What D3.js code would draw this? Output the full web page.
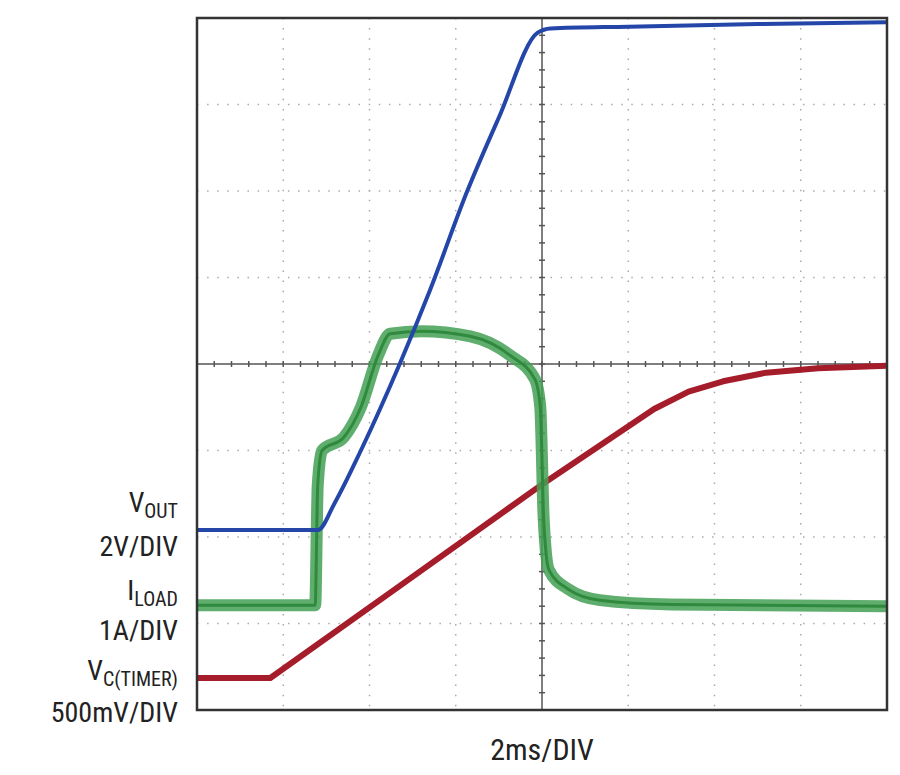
<!DOCTYPE html><html><head><meta charset="utf-8">
<script src="https://cdn.jsdelivr.net/npm/d3@7"></script>
<style>body{margin:0;background:#fff}text{font-family:"Liberation Sans Narrow","Roboto Condensed","Liberation Sans",sans-serif;fill:#222}</style>
</head><body><svg id="c" width="900" height="775"></svg>
<script>
// x in divisions (2ms/div), y in divisions from bottom
const vout = [[0,2.08],[1.40,2.08],[1.6,2.4],[1.9,3.0],[2.35,4.0],[2.7,4.85],[3.13,5.99],[3.5,6.85],[3.95,7.83],[4.1,7.88],[5,7.9],[6.5,7.93],[8,7.95]];
const iload = [[0,1.21],[1.37,1.21],[1.40,2.6],[1.45,3.0],[1.7,3.15],[1.9,3.5],[2.1,4.1],[2.24,4.35],[2.6,4.38],[3.17,4.32],[3.63,4.1],[3.92,3.82],[3.98,3.5],[4.02,2.2],[4.08,1.62],[4.3,1.4],[4.67,1.27],[5.5,1.22],[8,1.2]];
const vtimer = [[0,0.37],[0.85,0.37],[2.4,1.47],[3.99,2.6],[5.3,3.48],[5.7,3.68],[6.1,3.8],[6.6,3.9],[7.2,3.95],[8,3.98]];
const labels = [
 {main:"V",sub:"OUT",y:512},{main:"2V/DIV",y:556},
 {main:"I",sub:"LOAD",y:600},{main:"1A/DIV",y:640},
 {main:"V",sub:"C(TIMER)",y:680},{main:"500mV/DIV",y:722}];
const xLabel = "2ms/DIV";

const svg=d3.select("#c");
const L=197,R=887,T=18,B=710;
const x=d3.scaleLinear().domain([0,8]).range([L,R]);
const y=d3.scaleLinear().domain([0,8]).range([B,T]);
const g=svg.append("g");
for(let i=1;i<8;i++){
  if(i===4) continue;
  g.append("line").attr("x1",x(i)).attr("x2",x(i)).attr("y1",T).attr("y2",B).attr("stroke","#aaa").attr("stroke-width",1.5).attr("stroke-dasharray","1.5,8.6");
  g.append("line").attr("y1",y(i)).attr("y2",y(i)).attr("x1",L).attr("x2",R).attr("stroke","#aaa").attr("stroke-width",1.5).attr("stroke-dasharray","1.5,8.6");
}
g.append("line").attr("x1",x(4)).attr("x2",x(4)).attr("y1",T).attr("y2",B).attr("stroke","#555").attr("stroke-width",1.5);
g.append("line").attr("y1",y(4)).attr("y2",y(4)).attr("x1",L).attr("x2",R).attr("stroke","#555").attr("stroke-width",1.5);
for(let k=1;k<40;k++){const v=k/5;
  g.append("line").attr("x1",x(4)-3).attr("x2",x(4)+3).attr("y1",y(v)).attr("y2",y(v)).attr("stroke","#555").attr("stroke-width",1.5);
  g.append("line").attr("y1",y(4)-3).attr("y2",y(4)+3).attr("x1",x(v)).attr("x2",x(v)).attr("stroke","#555").attr("stroke-width",1.5);
}
const line=d3.line().x(d=>x(d[0])).y(d=>y(d[1])).curve(d3.curveMonotoneX);
const lineLin=d3.line().x(d=>x(d[0])).y(d=>y(d[1]));
svg.append("path").datum(vtimer).attr("d",lineLin).attr("fill","none").attr("stroke","#a51d2a").attr("stroke-width",6).attr("stroke-linejoin","round");
svg.append("path").datum(iload).attr("d",line).attr("fill","none").attr("stroke","#44a055").attr("stroke-width",12).attr("stroke-linejoin","round").attr("opacity",0.85);
svg.append("path").datum(iload).attr("d",line).attr("fill","none").attr("stroke","#2f8a3e").attr("stroke-width",3);
svg.append("path").datum(vout).attr("d",line).attr("fill","none").attr("stroke","#2346a8").attr("stroke-width",4);
svg.append("rect").attr("x",L).attr("y",T).attr("width",R-L).attr("height",B-T).attr("fill","none").attr("stroke","#333").attr("stroke-width",2.5);
labels.forEach(l=>{
  const t=svg.append("text").attr("x",178).attr("y",l.y).attr("text-anchor","end").attr("font-size",28);
  t.append("tspan").text(l.main);
  if(l.sub) t.append("tspan").attr("font-size",20).attr("dy",6).text(l.sub);
});
svg.append("text").attr("x",x(4)).attr("y",760).attr("text-anchor","middle").attr("font-size",30).text(xLabel);
</script></body></html>
